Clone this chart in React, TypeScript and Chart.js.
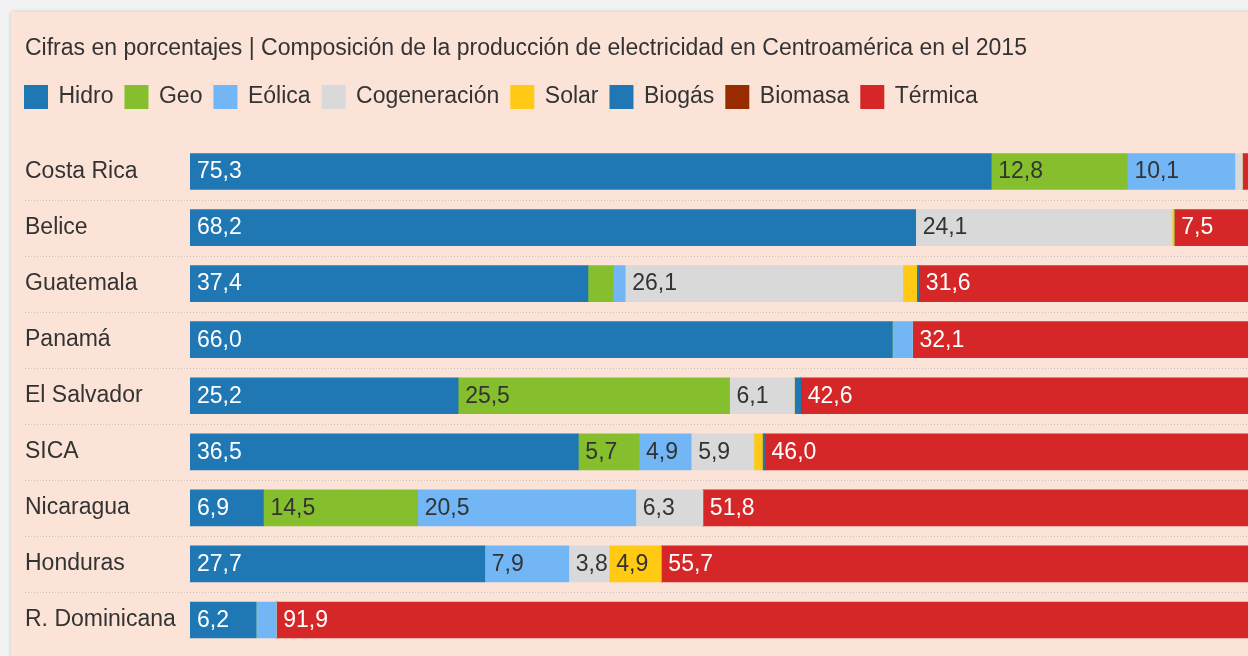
import React, { useEffect, useRef } from 'react';
import { Chart, registerables } from 'chart.js';

Chart.register(...registerables);

const FONT = "'Liberation Sans', Arial, sans-serif";
const FS = 23;

const titleText =
  'Cifras en porcentajes | Composición de la producción de electricidad en Centroamérica en el 2015';

const categories = [
  'Costa Rica',
  'Belice',
  'Guatemala',
  'Panamá',
  'El Salvador',
  'SICA',
  'Nicaragua',
  'Honduras',
  'R. Dominicana',
];

const seriesNames = ['Hidro', 'Geo', 'Eólica', 'Cogeneración', 'Solar', 'Biogás', 'Biomasa', 'Térmica'];

const hidro = [75.3, 68.2, 37.4, 66.0, 25.2, 36.5, 6.9, 27.7, 6.2];
const geo = [12.8, 0, 2.4, 0, 25.5, 5.7, 14.5, 0, 0];
const eolica = [10.1, 0, 1.1, 1.9, 0, 4.9, 20.5, 7.9, 1.9];
const cogeneracion = [0.7, 24.1, 26.1, 0, 6.1, 5.9, 6.3, 3.8, 0];
const solar = [0, 0.2, 1.3, 0, 0, 0.8, 0, 4.9, 0];
const biogas = [0, 0, 0.2, 0, 0.6, 0.2, 0, 0, 0];
const biomasa = [0, 0, 0, 0, 0, 0, 0, 0, 0];
const termica = [1.1, 7.5, 31.6, 32.1, 42.6, 46.0, 51.8, 55.7, 91.9];

const seriesValues = [hidro, geo, eolica, cogeneracion, solar, biogas, biomasa, termica];

const seriesColors = ['#1f77b4', '#86bf2e', '#72b6f6', '#d9d9d9', '#ffc914', '#1f77b4', '#992b00', '#d62728'];
const labelColors = ['#ffffff', '#333333', '#333333', '#333333', '#333333', '#ffffff', '#ffffff', '#ffffff'];

const LABEL_MIN = 3;

const legendShift = {
  id: 'legendShift',
  afterLayout(chart: any) {
    const lg = chart.legend;
    if (lg) {
      const p = lg.options.labels.padding || 0;
      lg.left -= p;
      lg.right -= p;
    }
  },
};

const separators = {
  id: 'separators',
  beforeDatasetsDraw(chart: any) {
    const ys = chart.scales.y;
    const ctx = chart.ctx;
    ctx.save();
    ctx.strokeStyle = 'rgba(185,185,185,0.75)';
    ctx.lineWidth = 1;
    ctx.setLineDash([1, 2]);
    for (let i = 0; i < categories.length - 1; i++) {
      const y = Math.round((ys.getPixelForValue(i) + ys.getPixelForValue(i + 1)) / 2) + 0.5;
      ctx.beginPath();
      ctx.moveTo(ys.left, y);
      ctx.lineTo(chart.width, y);
      ctx.stroke();
    }
    ctx.restore();
  },
};

const valueLabels = {
  id: 'valueLabels',
  afterDatasetsDraw(chart: any) {
    const ctx = chart.ctx;
    ctx.save();
    ctx.font = `${FS}px ${FONT}`;
    ctx.textAlign = 'left';
    ctx.textBaseline = 'middle';
    chart.data.datasets.forEach((ds: any, di: number) => {
      const meta = chart.getDatasetMeta(di);
      meta.data.forEach((bar: any, i: number) => {
        const v = ds.data[i];
        if (v == null || v < LABEL_MIN) return;
        const left = Math.min(bar.base, bar.x);
        ctx.fillStyle = labelColors[di];
        ctx.fillText(v.toFixed(1).replace('.', ','), left + 7, bar.y + 0.5);
      });
    });
    ctx.restore();
  },
};

export default function App() {
  const ref = useRef<HTMLCanvasElement | null>(null);

  useEffect(() => {
    if (!ref.current) return;
    const chart = new Chart(ref.current, {
      type: 'bar',
      data: {
        labels: categories,
        datasets: seriesNames.map((name, i) => ({
          label: name,
          data: seriesValues[i],
          backgroundColor: seriesColors[i],
          borderWidth: 0,
          barThickness: 36,
        })),
      },
      options: {
        indexAxis: 'y',
        responsive: false,
        animation: false,
        devicePixelRatio: 1,
        layout: { padding: { left: 14, right: 17, top: 0, bottom: 24 } },
        plugins: {
          title: {
            display: true,
            text: titleText,
            align: 'start',
            color: '#333333',
            font: { family: FONT, size: FS, weight: 'normal', lineHeight: 1.2 },
            padding: { top: 22.5, bottom: 11.4 },
          },
          legend: {
            display: true,
            position: 'top',
            align: 'start',
            labels: {
              boxWidth: 22,
              boxHeight: 22,
              padding: 12,
              color: '#333333',
              font: { family: FONT, size: FS },
              generateLabels: (chart: any) =>
                Chart.defaults.plugins.legend.labels.generateLabels(chart).map((it: any) => ({
                  ...it,
                  lineWidth: 2,
                  strokeStyle: it.fillStyle,
                })),
            },
          },
          tooltip: { enabled: false },
        },
        scales: {
          x: {
            stacked: true,
            min: 0,
            max: 100,
            position: 'top',
            display: true,
            ticks: { display: false },
            grid: { display: false },
            border: { display: false },
            afterFit: (s: any) => {
              s.height = 25;
            },
          },
          y: {
            stacked: true,
            ticks: { crossAlign: 'far', color: '#333333', font: { family: FONT, size: FS }, padding: 0 },
            grid: { display: false },
            border: { display: false },
            afterFit: (s: any) => {
              s.width = 165;
            },
          },
        },
      } as any,
      plugins: [legendShift, separators, valueLabels],
    });
    return () => chart.destroy();
  }, []);

  return (
    <div
      style={{
        position: 'fixed',
        left: 0,
        top: 0,
        width: 1248,
        height: 656,
        overflow: 'hidden',
        background: '#f2f2f2',
      }}
    >
      <div
        style={{
          position: 'absolute',
          left: 11,
          top: 12,
          width: 1300,
          height: 700,
          background: '#fce3d8',
          boxShadow: '0 0 4px rgba(0,0,0,0.18)',
        }}
      >
        <canvas ref={ref} width={1260} height={660} style={{ display: 'block', width: 1260, height: 660 }} />
      </div>
    </div>
  );
}
